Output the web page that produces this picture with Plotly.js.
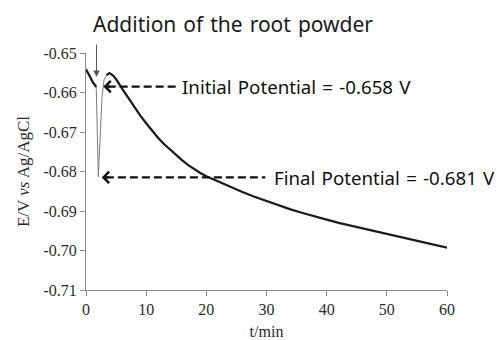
<!DOCTYPE html>
<html>
<head>
<meta charset="utf-8">
<script src="https://cdn.plot.ly/plotly-3.0.1.min.js"></script>
<style>html,body{margin:0;padding:0;background:#fff;}#chart{width:497px;height:340px;}</style>
</head>
<body>
<div id="chart"></div>
<script>
// Data (t in min, E in V vs Ag/AgCl)
var preT = [0, 0.3, 0.67, 1.1, 1.5, 1.7];
var preE = [-0.6541, -0.6548, -0.6560, -0.6573, -0.6581, -0.6586];
var spikeT = [1.7, 1.9, 2.05, 2.2, 2.45, 2.67, 3.0, 3.4];
var spikeE = [-0.6586, -0.6720, -0.6813, -0.6762, -0.6678, -0.6611, -0.6568, -0.6556];
var postT = [3.4, 3.9, 4.5, 5, 6, 7, 8, 9, 10, 11, 12, 13, 14, 15, 16, 17, 18, 19, 20, 21, 22, 24, 26, 28, 30, 32, 34, 36, 38, 40, 42, 44, 46, 48, 50, 52, 54, 56, 58, 60];
var postE = [-0.6556, -0.6551, -0.6557, -0.6566, -0.6590, -0.6613, -0.6637, -0.6658, -0.6678, -0.6697, -0.6715, -0.6731, -0.6745, -0.6759, -0.6772, -0.6784, -0.6795, -0.6804, -0.6812, -0.6819, -0.6826, -0.6839, -0.6852, -0.6864, -0.6875, -0.6886, -0.6896, -0.6905, -0.6914, -0.6922, -0.6930, -0.6937, -0.6944, -0.6951, -0.6958, -0.6965, -0.6972, -0.6979, -0.6986, -0.6993];

var initialE = -0.658;
var finalE = -0.681;
var additionT = 1.75;
var additionE = -0.6561;

var xTickVals = [0, 10, 20, 30, 40, 50, 60];
var xTickText = ['0', '10', '20', '30', '40', '50', '60'];
var yTickVals = [-0.65, -0.66, -0.67, -0.68, -0.69, -0.70, -0.71];
var yTickText = ['-0.65', '-0.66', '-0.67', '-0.68', '-0.69', '-0.70', '-0.71'];

var SP = '\u2004';
var titleText = ['Addition', 'of', 'the', 'root', 'powder'].join(SP);
var initialLabel = ['Initial', 'Potential', '=', initialE.toFixed(3), 'V'].join(SP);
var finalLabel = ['Final', 'Potential', '=', finalE.toFixed(3), 'V'].join(SP);

var thick = {color: '#1e1a1a', width: 2.3};
var traces = [
  {x: preT, y: preE, mode: 'lines', line: thick, hoverinfo: 'skip'},
  {x: spikeT, y: spikeE, mode: 'lines', line: {color: '#7a7a7a', width: 1}, hoverinfo: 'skip'},
  {x: postT, y: postE, mode: 'lines', line: thick, hoverinfo: 'skip'}
];

var sansFont = '"Noto Sans", "Open Sans", sans-serif';
var serifFont = '"Liberation Serif", "Times New Roman", serif';

var layout = {
  width: 497, height: 340,
  margin: {l: 86, r: 50, t: 53, b: 50},
  paper_bgcolor: '#fff', plot_bgcolor: '#fff',
  showlegend: false,
  title: {text: titleText, x: 93/497, xanchor: 'left', xref: 'container', y: 1 - 25/340, yanchor: 'middle', yref: 'container',
          font: {family: sansFont, size: 21, color: '#1a1a1a'}},
  xaxis: {
    range: [0, 60], showgrid: false, zeroline: false, showline: true, linecolor: '#8a8a8a', linewidth: 1,
    ticks: 'outside', ticklen: 5, tickcolor: '#8a8a8a', tickvals: xTickVals, ticktext: xTickText,
    tickfont: {family: serifFont, size: 16, color: '#2a2a2a'},
    title: {text: 't/min', font: {family: serifFont, size: 16, color: '#2a2a2a'}, standoff: 10},
    fixedrange: true
  },
  yaxis: {
    range: [-0.71, -0.65], showgrid: false, zeroline: false, showline: true, linecolor: '#8a8a8a', linewidth: 1,
    ticks: 'outside', ticklen: 5, tickcolor: '#8a8a8a', tickvals: yTickVals, ticktext: yTickText,
    tickfont: {family: serifFont, size: 16, color: '#2a2a2a'},
    title: {text: 'E/V <i>vs</i> Ag/AgCl', font: {family: serifFont, size: 17, color: '#2a2a2a'}, standoff: 9},
    fixedrange: true
  },
  shapes: [
    {type: 'line', xref: 'x', yref: 'y', x0: 3.6, x1: 15.3, y0: initialE - 0.0005, y1: initialE - 0.0005,
     line: {color: '#111', width: 2.2, dash: '8px,4px'}},
    {type: 'line', xref: 'x', yref: 'y', x0: 3.3, x1: 29.8, y0: finalE - 0.0005, y1: finalE - 0.0005,
     line: {color: '#111', width: 2.2, dash: '8px,4px'}}
  ],
  annotations: [
    {x: 2.88, y: initialE - 0.0005, ax: 4.3, ay: initialE - 0.0005, axref: 'x', ayref: 'y', text: '',
     showarrow: true, arrowhead: 4, arrowsize: 1, arrowwidth: 2.2, arrowcolor: '#111'},
    {x: 2.6, y: finalE - 0.0005, ax: 4.0, ay: finalE - 0.0005, axref: 'x', ayref: 'y', text: '',
     showarrow: true, arrowhead: 4, arrowsize: 1, arrowwidth: 2.2, arrowcolor: '#111'},
    {x: 15.7, y: initialE - 0.0005, xanchor: 'left', yanchor: 'middle', text: initialLabel, showarrow: false,
     font: {family: sansFont, size: 18.7, color: '#111'}},
    {x: 30.9, y: finalE - 0.0005, xanchor: 'left', yanchor: 'middle', text: finalLabel, showarrow: false,
     font: {family: sansFont, size: 18.7, color: '#111'}},
    {x: additionT, y: additionE, ax: 0, ay: -34, text: '', showarrow: true, arrowhead: 2, arrowsize: 1.3,
     arrowwidth: 1, arrowcolor: '#555'}
  ]
};

Plotly.newPlot('chart', traces, layout, {staticPlot: true, displayModeBar: false});
</script>
</body>
</html>
